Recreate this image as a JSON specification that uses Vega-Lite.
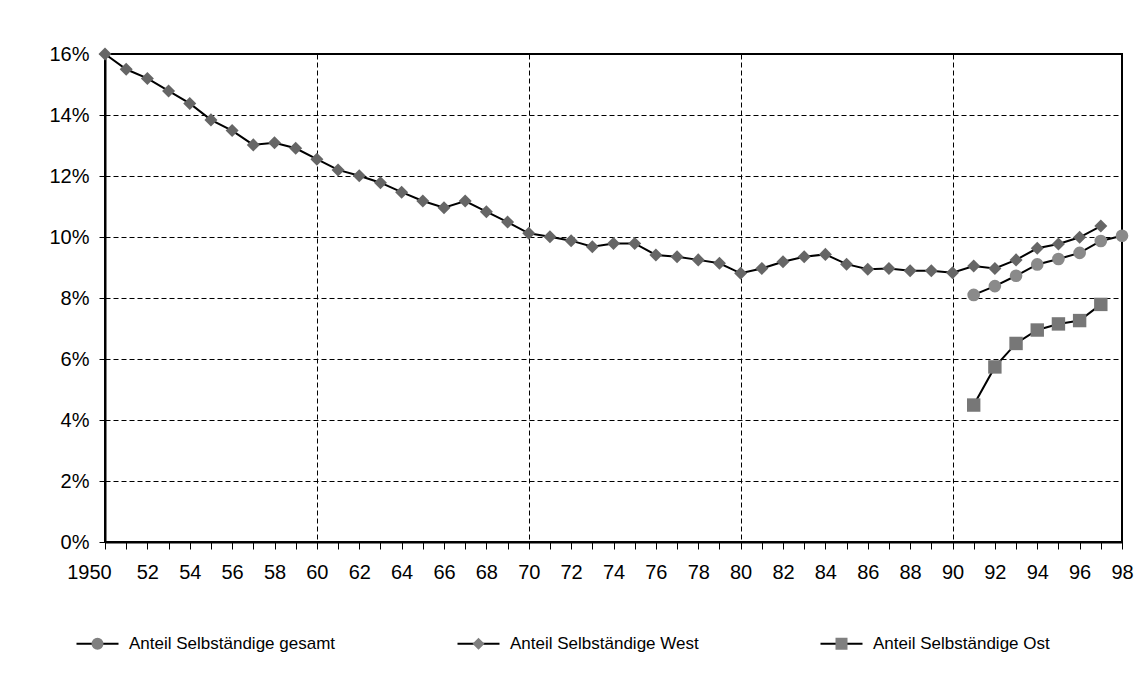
{
  "$schema": "https://vega.github.io/schema/vega-lite/v6.json",
  "width": 1017,
  "height": 488,
  "autosize": "none",
  "padding": {"left": 105, "top": 54, "right": 16, "bottom": 157},
  "background": "white",
  "config": {
    "font": "Liberation Sans",
    "view": {"stroke": "black", "strokeWidth": 2},
    "axis": {"labelFont": "Liberation Sans", "labelColor": "black", "labelFontSize": 20, "domainColor": "black", "domainWidth": 2, "tickColor": "black", "tickWidth": 1, "title": null},
    "legend": {"orient": "none", "legendX": -16, "legendY": 581, "direction": "horizontal", "columns": 3, "columnPadding": 118, "labelOffset": 23, "labelFont": "Liberation Sans", "labelFontSize": 17, "labelColor": "black", "labelLimit": 600, "symbolSize": 144, "padding": 0, "symbolOpacity": 1}
  },
  "data": {
    "values": [
      {"year": 1950, "series": "Anteil Selbständige West", "value": 0.1600},
      {"year": 1951, "series": "Anteil Selbständige West", "value": 0.1550},
      {"year": 1952, "series": "Anteil Selbständige West", "value": 0.1520},
      {"year": 1953, "series": "Anteil Selbständige West", "value": 0.1479},
      {"year": 1954, "series": "Anteil Selbständige West", "value": 0.1438},
      {"year": 1955, "series": "Anteil Selbständige West", "value": 0.1384},
      {"year": 1956, "series": "Anteil Selbständige West", "value": 0.1349},
      {"year": 1957, "series": "Anteil Selbständige West", "value": 0.1302},
      {"year": 1958, "series": "Anteil Selbständige West", "value": 0.1309},
      {"year": 1959, "series": "Anteil Selbständige West", "value": 0.1291},
      {"year": 1960, "series": "Anteil Selbständige West", "value": 0.1255},
      {"year": 1961, "series": "Anteil Selbständige West", "value": 0.1220},
      {"year": 1962, "series": "Anteil Selbständige West", "value": 0.1201},
      {"year": 1963, "series": "Anteil Selbständige West", "value": 0.1178},
      {"year": 1964, "series": "Anteil Selbständige West", "value": 0.1147},
      {"year": 1965, "series": "Anteil Selbständige West", "value": 0.1118},
      {"year": 1966, "series": "Anteil Selbständige West", "value": 0.1096},
      {"year": 1967, "series": "Anteil Selbständige West", "value": 0.1118},
      {"year": 1968, "series": "Anteil Selbständige West", "value": 0.1083},
      {"year": 1969, "series": "Anteil Selbständige West", "value": 0.1049},
      {"year": 1970, "series": "Anteil Selbständige West", "value": 0.1012},
      {"year": 1971, "series": "Anteil Selbständige West", "value": 0.1001},
      {"year": 1972, "series": "Anteil Selbständige West", "value": 0.0988},
      {"year": 1973, "series": "Anteil Selbständige West", "value": 0.0968},
      {"year": 1974, "series": "Anteil Selbständige West", "value": 0.0979},
      {"year": 1975, "series": "Anteil Selbständige West", "value": 0.0979},
      {"year": 1976, "series": "Anteil Selbständige West", "value": 0.0941},
      {"year": 1977, "series": "Anteil Selbständige West", "value": 0.0935},
      {"year": 1978, "series": "Anteil Selbständige West", "value": 0.0925},
      {"year": 1979, "series": "Anteil Selbständige West", "value": 0.0914},
      {"year": 1980, "series": "Anteil Selbständige West", "value": 0.0881},
      {"year": 1981, "series": "Anteil Selbständige West", "value": 0.0897},
      {"year": 1982, "series": "Anteil Selbständige West", "value": 0.0919},
      {"year": 1983, "series": "Anteil Selbständige West", "value": 0.0935},
      {"year": 1984, "series": "Anteil Selbständige West", "value": 0.0943},
      {"year": 1985, "series": "Anteil Selbständige West", "value": 0.0911},
      {"year": 1986, "series": "Anteil Selbständige West", "value": 0.0894},
      {"year": 1987, "series": "Anteil Selbständige West", "value": 0.0897},
      {"year": 1988, "series": "Anteil Selbständige West", "value": 0.0889},
      {"year": 1989, "series": "Anteil Selbständige West", "value": 0.0889},
      {"year": 1990, "series": "Anteil Selbständige West", "value": 0.0883},
      {"year": 1991, "series": "Anteil Selbständige West", "value": 0.0905},
      {"year": 1992, "series": "Anteil Selbständige West", "value": 0.0897},
      {"year": 1993, "series": "Anteil Selbständige West", "value": 0.0925},
      {"year": 1994, "series": "Anteil Selbständige West", "value": 0.0963},
      {"year": 1995, "series": "Anteil Selbständige West", "value": 0.0977},
      {"year": 1996, "series": "Anteil Selbständige West", "value": 0.0999},
      {"year": 1997, "series": "Anteil Selbständige West", "value": 0.1036},
      {"year": 1991, "series": "Anteil Selbständige gesamt", "value": 0.0810},
      {"year": 1992, "series": "Anteil Selbständige gesamt", "value": 0.0839},
      {"year": 1993, "series": "Anteil Selbständige gesamt", "value": 0.0873},
      {"year": 1994, "series": "Anteil Selbständige gesamt", "value": 0.0910},
      {"year": 1995, "series": "Anteil Selbständige gesamt", "value": 0.0928},
      {"year": 1996, "series": "Anteil Selbständige gesamt", "value": 0.0948},
      {"year": 1997, "series": "Anteil Selbständige gesamt", "value": 0.0987},
      {"year": 1998, "series": "Anteil Selbständige gesamt", "value": 0.1004},
      {"year": 1991, "series": "Anteil Selbständige Ost", "value": 0.0449},
      {"year": 1992, "series": "Anteil Selbständige Ost", "value": 0.0574},
      {"year": 1993, "series": "Anteil Selbständige Ost", "value": 0.0651},
      {"year": 1994, "series": "Anteil Selbständige Ost", "value": 0.0695},
      {"year": 1995, "series": "Anteil Selbständige Ost", "value": 0.0715},
      {"year": 1996, "series": "Anteil Selbständige Ost", "value": 0.0726},
      {"year": 1997, "series": "Anteil Selbständige Ost", "value": 0.0779}
    ]
  },
  "encoding": {
    "x": {
      "field": "year",
      "type": "quantitative",
      "scale": {"domain": [1950, 1998], "nice": false, "zero": false},
      "axis": {
        "values": [1950,1951,1952,1953,1954,1955,1956,1957,1958,1959,1960,1961,1962,1963,1964,1965,1966,1967,1968,1969,1970,1971,1972,1973,1974,1975,1976,1977,1978,1979,1980,1981,1982,1983,1984,1985,1986,1987,1988,1989,1990,1991,1992,1993,1994,1995,1996,1997,1998],
        "labelExpr": "datum.value == 1950 ? '1950' : (datum.value % 2 == 0 ? slice(toString(datum.value), 2) : '')",
        "labelFlush": false,
        "labelOverlap": false,
        "labelBound": false,
        "labelOffset": {"condition": {"test": "datum.value == 1950", "value": -16}, "value": 0},
        "tickSize": 7,
        "labelPadding": 13,
        "grid": true,
        "gridColor": "black",
        "gridWidth": 1,
        "gridDash": [5, 3],
        "gridOpacity": {"condition": {"test": "datum.value % 10 == 0 && datum.value > 1950 && datum.value < 1998", "value": 1}, "value": 0}
      }
    },
    "y": {
      "field": "value",
      "type": "quantitative",
      "scale": {"domain": [0, 0.16], "nice": false},
      "axis": {
        "values": [0, 0.02, 0.04, 0.06, 0.08, 0.1, 0.12, 0.14, 0.16],
        "format": ".0%",
        "tickSize": 6,
        "labelPadding": 10,
        "grid": true,
        "gridColor": "black",
        "gridWidth": 1,
        "gridDash": [5, 3]
      }
    }
  },
  "resolve": {"scale": {"shape": "independent"}, "legend": {"shape": "independent"}},
  "layer": [
    {
      "mark": {"type": "line", "color": "black", "strokeWidth": 2},
      "encoding": {"detail": {"field": "series"}}
    },
    {
      "mark": {"type": "point", "filled": true, "opacity": 1, "strokeWidth": 0},
      "encoding": {
        "color": {
          "field": "series",
          "type": "nominal",
          "scale": {"domain": ["Anteil Selbständige gesamt", "Anteil Selbständige West", "Anteil Selbständige Ost"], "range": ["#8a8a8a", "#666666", "#777777"]},
          "legend": null
        },
        "shape": {
          "field": "series",
          "type": "nominal",
          "scale": {"domain": ["Anteil Selbständige gesamt", "Anteil Selbständige West", "Anteil Selbständige Ost"], "range": ["circle", "diamond", "square"]},
          "legend": null
        },
        "size": {
          "field": "series",
          "type": "nominal",
          "scale": {"domain": ["Anteil Selbständige gesamt", "Anteil Selbständige West", "Anteil Selbständige Ost"], "range": [160, 180, 150]},
          "legend": null
        }
      }
    },
    {
      "transform": [{"filter": "datum.year < 0"}],
      "mark": {"type": "point", "filled": true, "opacity": 1, "color": "black"},
      "encoding": {
        "shape": {
          "field": "series",
          "type": "nominal",
          "scale": {
            "domain": ["Anteil Selbständige gesamt", "Anteil Selbständige West", "Anteil Selbständige Ost"],
            "range": [
              "M-3.5,-0.17H3.5V0.17H-3.5ZM0,-1H0.01M0,1H0.01",
              "M-3.5,-0.17H3.5V0.17H-3.5ZM0,-1H0.01M0,1H0.01",
              "M-3.5,-0.17H3.5V0.17H-3.5ZM0,-1H0.01M0,1H0.01"
            ]
          },
          "legend": {"title": null, "symbolFillColor": "black"}
        }
      }
    },
    {
      "transform": [{"filter": "datum.year < 0"}],
      "mark": {"type": "point", "filled": true, "opacity": 1, "color": "#808080"},
      "encoding": {
        "shape": {
          "field": "series",
          "type": "nominal",
          "scale": {
            "domain": ["Anteil Selbständige gesamt", "Anteil Selbständige West", "Anteil Selbständige Ost"],
            "range": [
              "M1,0L0.92,0.38L0.71,0.71L0.38,0.92L0,1L-0.38,0.92L-0.71,0.71L-0.92,0.38L-1,0L-0.92,-0.38L-0.71,-0.71L-0.38,-0.92L0,-1L0.38,-0.92L0.71,-0.71L0.92,-0.38ZM-3.5,0H-3.49M3.49,0H3.5",
              "M0,-1L1,0L0,1L-1,0ZM-3.5,0H-3.49M3.49,0H3.5",
              "M-1,-1H1V1H-1ZM-3.5,0H-3.49M3.49,0H3.5"
            ]
          },
          "legend": {"title": null, "symbolFillColor": "#808080", "labelOpacity": 0}
        }
      }
    }
  ]
}
